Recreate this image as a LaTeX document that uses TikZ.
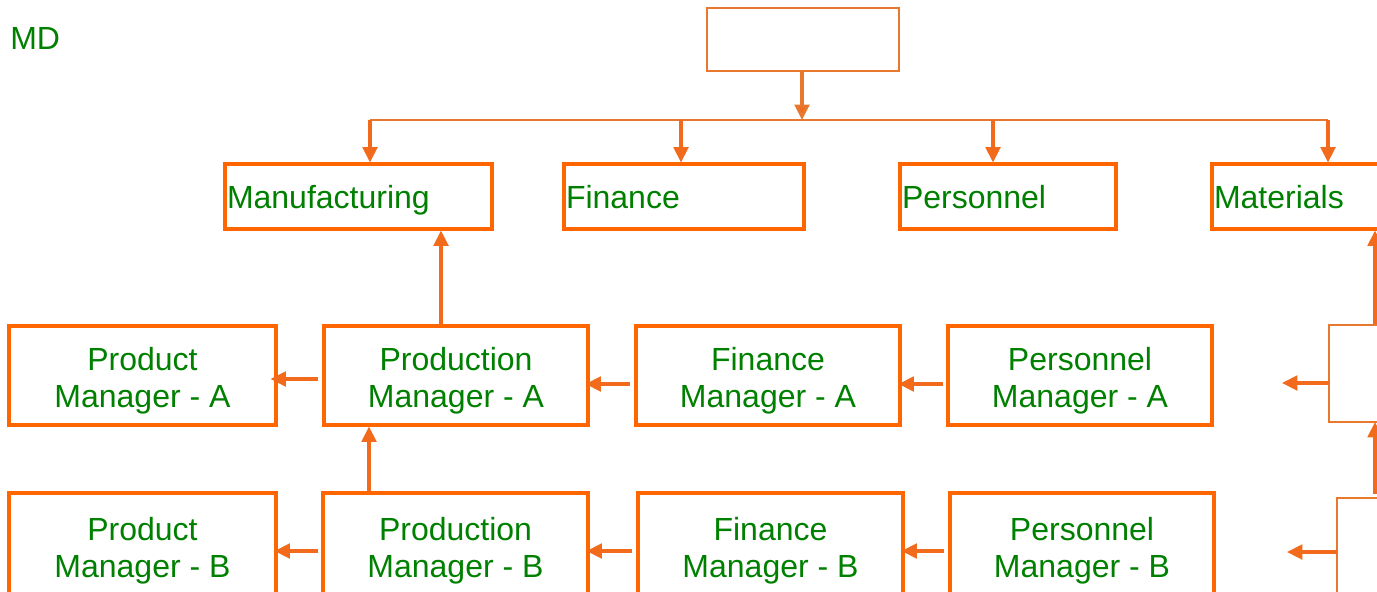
\documentclass[tikz,border=0pt]{standalone}
\usepackage{fontspec}
\setmainfont{Liberation Sans}
\usetikzlibrary{arrows.meta,calc}
\definecolor{boxor}{HTML}{FF6600}
\definecolor{lineor}{HTML}{F26A1B}
\definecolor{thinor}{HTML}{E8782E}
\definecolor{txtgr}{HTML}{008000}
\begin{document}
\begin{tikzpicture}[x=0.75pt,y=-0.75pt,
  font=\fontsize{24}{27.75}\selectfont,
  sz/.style 2 args={minimum width=#1*0.75pt, minimum height=#2*0.75pt},
  obox/.style={draw=boxor, line width=2.3pt, inner sep=0pt},
  ctext/.style={label={[text=txtgr, align=center, inner sep=0pt, yshift=-4pt]center:#1}},
  lbox/.style 2 args={draw=boxor, line width=2.3pt, text=txtgr, inner xsep=1.5pt, inner ysep=0pt,
     text depth=0pt,
     minimum width=#1*0.75pt, minimum height=#2*0.75pt, text width=#1*0.75pt-3pt, align=left},
  arr/.style={draw=lineor, line width=2.4pt, -{Triangle[length=11.5pt,width=11pt]}},
  thin/.style={draw=thinor, line width=1.4pt},
  thinarr/.style={draw=thinor, line width=2.3pt, -{Triangle[length=11.5pt,width=11pt,fill=lineor]}}]
\useasboundingbox (0,0) rectangle (1377,592);
\clip (0,0) rectangle (1377,592);

\node[text=txtgr, anchor=west, inner sep=0pt] (md) at (10,38) {MD};
\node[thin, sz={192}{63}, inner sep=0pt] (top) at (803,39.5) {};

% row 1
\node[lbox={267}{65}] (manu) at (358.5,196.5) {Manufacturing};
\node[lbox={240}{65}] (fin) at (684,196.5) {Finance};
\node[lbox={216}{65}] (pers) at (1008,196.5) {Personnel};
\node[lbox={188}{65}] (mat) at (1306,196.5) {Materials};

% row 2
\node[obox, sz={267}{99}, ctext={Product\\Manager - A}] (pdA) at (142.5,375.5) {};
\node[obox, sz={264}{99}, ctext={Production\\Manager - A}] (pnA) at (456,375.5) {};
\node[obox, sz={264}{99}, ctext={Finance\\Manager - A}] (fA) at (768,375.5) {};
\node[obox, sz={264}{99}, ctext={Personnel\\Manager - A}] (pA) at (1080,375.5) {};

% row 3
\node[obox, sz={267}{104}, ctext={Product\\Manager - B}] (pdB) at (142.5,545) {};
\node[obox, sz={265}{104}, ctext={Production\\Manager - B}] (pnB) at (455.5,545) {};
\node[obox, sz={265}{104}, ctext={Finance\\Manager - B}] (fB) at (770.5,545) {};
\node[obox, sz={264}{104}, ctext={Personnel\\Manager - B}] (pB) at (1082,545) {};

% top distribution
\coordinate (j) at (802,120);
\coordinate (b1) at (370,120);
\coordinate (b2) at (681,120);
\coordinate (b3) at (993,120);
\coordinate (b4) at (1328,120);
\draw[thinarr] (top.south -| j) -- (j);
\draw[thin, line width=1.8pt] (b1) -- (b4);
\draw[arr] (b1) -- (b1 |- manu.north);
\draw[arr] (b2) -- (b2 |- fin.north);
\draw[arr] (b3) -- (b3 |- pers.north);
\draw[arr] (b4) -- (b4 |- mat.north);

% row 2 arrows
\coordinate (u1) at (441,0);
\draw[arr] (pnA.north -| u1) -- (manu.south -| u1);
\draw[arr] ($(pnA.west)+(-4,3.5)$) -- ($(pdA.east)+(-7,3.5)$);
\draw[arr] ($(fA.west)+(-4,8.5)$) -- ($(pnA.east)+(-4,8.5)$);
\draw[arr] ($(pA.west)+(-3,8.5)$) -- ($(fA.east)+(-3,8.5)$);

% row 3 arrows
\coordinate (u2) at (369,0);
\draw[arr] (pnB.north -| u2) -- (pnA.south -| u2);
\draw[arr] ($(pnB.west)+(-3,6)$) -- ($(pdB.east)+(-3,6)$);
\draw[arr] ($(fB.west)+(-4,6)$) -- ($(pnB.east)+(-3,6)$);
\draw[arr] ($(pB.west)+(-4,6)$) -- ($(fB.east)+(-3,6)$);

% right side brackets
\coordinate (r1) at (1375,325);
\coordinate (k1) at (1329,325);
\coordinate (k2) at (1329,422);
\coordinate (k3) at (1377,422);
\coordinate (k4) at (1329,383);
\coordinate (t1) at (1282,383);
\draw[arr] (r1) -- (r1 |- mat.south);
\draw[thin] (1377,325) -- (k1) -- (k2) -- (k3);
\draw[arr] (k4) -- (t1);
\coordinate (r2) at (1375,494);
\coordinate (m1) at (1337,498);
\coordinate (m2) at (1337,600);
\coordinate (m3) at (1337,552);
\coordinate (t2) at (1287,552);
\draw[arr] (r2) -- (r2 |- k3);
\draw[thin] (1377,498) -- (m1) -- (m2);
\draw[arr] (m3) -- (t2);
\end{tikzpicture}
\end{document}
